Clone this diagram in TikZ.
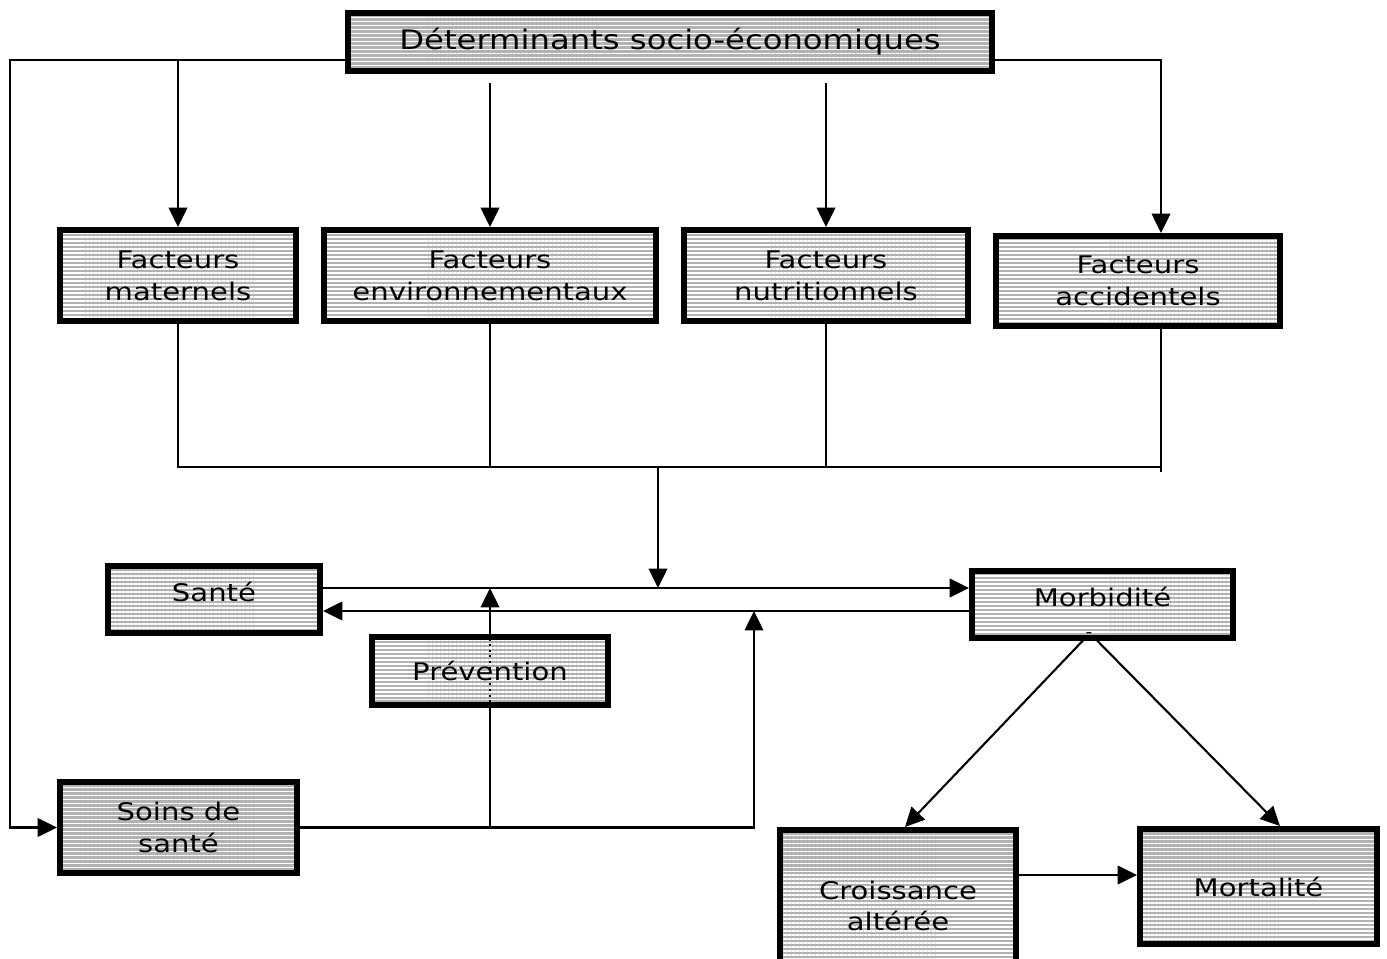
\documentclass[tikz,border=0pt]{standalone}
\usepackage{fontspec}
\setmainfont{DejaVu Sans}[FakeStretch=1.2]
\usetikzlibrary{arrows.meta,patterns.meta}
\definecolor{boxgray}{gray}{0.70}
\tikzset{
  box/.style={draw=black, line width=3.4pt,
    preaction={fill=boxgray},
    preaction={pattern={Lines[angle=0,distance=2.27pt,line width=0.85pt]}, pattern color=white},
    align=center, inner sep=0pt, font=\fontsize{13.8}{18.1}\selectfont},
  conn/.style={line width=1.2pt, line cap=rect},
  arr/.style={conn, -{Triangle[length=11pt,width=10.5pt]}},
}
\begin{document}
\begin{tikzpicture}[x=0.02cm, y=-0.02cm]
\useasboundingbox (0,0) rectangle (1387,959);
\clip (0,0) rectangle (1387,959);
% boxes
\node[box, minimum width=12.88cm, minimum height=1.16cm, font=\fontsize{15.3}{18}\selectfont] (top) at (670,42) {Déterminants socio-économiques};
\node[box, minimum width=4.72cm, minimum height=1.82cm] (mat) at (178,275.5) {Facteurs\\maternels};
\node[box, minimum width=6.64cm, minimum height=1.82cm] (env) at (490,275.5) {Facteurs\\environnementaux};
\node[box, minimum width=5.68cm, minimum height=1.82cm] (nut) at (826,275.5) {Facteurs\\nutritionnels};
\node[box, minimum width=5.68cm, minimum height=1.80cm] (acc) at (1138,281) {Facteurs\\accidentels};
\node[box, minimum width=4.24cm, minimum height=1.34cm, text height=9.5pt, text depth=7pt] (sante) at (214,599.5) {Santé};
\node[box, minimum width=5.22cm, minimum height=1.34cm, text height=9.5pt, text depth=7pt] (morb) at (1102.5,604.5) {Morbidité};
\node[font=\fontsize{9}{9}\selectfont, inner sep=0pt] (mdash) at (1089,635) {-};
\node[box, minimum width=4.72cm, minimum height=1.36cm] (prev) at (490,671) {Prévention};
\node[box, minimum width=4.74cm, minimum height=1.82cm] (soins) at (178.5,827.5) {Soins de\\santé};
\node[box, minimum width=4.72cm, minimum height=3.04cm] (crois) at (898,906) {Croissance\\altérée};
\node[box, minimum width=4.74cm, minimum height=2.30cm] (mort) at (1258.5,886.5) {Mortalité};
% coordinates
\coordinate (tl) at (10,60);
\coordinate (tr) at (1161,60);
\coordinate (d0) at (0,84);
\coordinate (bl) at (178,467);
\coordinate (br) at (1161,467);
\coordinate (bm) at (658,467);
\coordinate (t1) at (658,588);
\coordinate (t2) at (754,611);
\coordinate (cm) at (1078,875);
% top connectors
\draw[arr] (top.west |- tl) -- (tl) |- (soins.west);
\draw[arr] (mat.north |- tl) -- (mat.north);
\draw[arr] (env.north |- d0) -- (env.north);
\draw[arr] (nut.north |- d0) -- (nut.north);
\draw[arr] (top.east |- tr) -- (tr) -- (tr |- acc.north);
% bottom collection
\draw[conn] (mat.south) -- (bl);
\draw[conn] (env.south) -- (env.south |- bl);
\draw[conn] (nut.south) -- (nut.south |- bl);
\draw[conn] (tr |- acc.south) -- ([yshift=-0.08cm]br);
\draw[conn] (bl) -- (br);
\draw[arr] (bm) -- (t1);
% sante <-> morbidite
\draw[arr] (sante.east |- t1) -- (morb.west |- t1);
\draw[arr] (morb.west |- t2) -- (sante.east |- t2);
% soins de sante
\draw[conn] (soins.east) -- (soins.east -| t2);
\draw[arr] (soins.east -| t2) -- (t2);
\draw[conn] (soins.east -| prev.south) -- (prev.south);
\draw[line width=1.2pt, dotted] (prev.south) -- (prev.north);
\draw[arr] (prev.north) -- (prev.north |- t1);
% morbidite outcomes
\draw[arr] ([xshift=-0.4cm]morb.south) -- ([xshift=0.14cm]crois.north);
\draw[arr] ([xshift=-0.1cm]morb.south) -- ([xshift=0.43cm]mort.north);
\draw[arr] (crois.east |- cm) -- (mort.west |- cm);
\end{tikzpicture}
\end{document}
